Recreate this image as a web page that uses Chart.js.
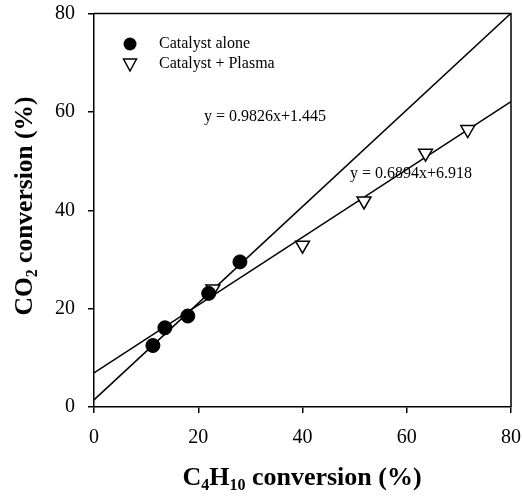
<!DOCTYPE html>
<html><head><meta charset="utf-8">
<script src="https://cdn.jsdelivr.net/npm/chart.js@4/dist/chart.umd.min.js"></script>
<style>html,body{margin:0;padding:0;background:#fff}#wrap{width:522px;height:496px}</style>
</head><body><div id="wrap"><canvas id="c" width="522" height="496"></canvas></div>
<script>
const catalystX = [11.3, 13.6, 18.0, 22.0, 28.0];
const catalystY = [12.5, 16.1, 18.5, 23.1, 29.5];
const plasmaX = [22.8, 40.0, 51.8, 63.6, 71.7];
const plasmaY = [24.0, 32.9, 41.9, 51.6, 56.4];
const fit1X = [0, 80];
const fit1Y = [1.445, 80.05];
const fit2X = [0, 80];
const fit2Y = [6.918, 62.07];
const xTicks = [0, 20, 40, 60, 80];
const yTicks = [0, 20, 40, 60, 80];
const seriesNames = ["Catalyst alone", "Catalyst + Plasma"];
const fitLabels = ["y = 0.9826x+1.445", "y = 0.6894x+6.918"];

const pts = (xs, ys) => xs.map((x, i) => ({x, y: ys[i]}));
const SERIF = '"Liberation Serif", "DejaVu Serif", serif';

function drawSub(ctx, parts, cx, cy, size) {
  const subSize = Math.round(size * 0.62);
  let w = 0;
  parts.forEach(p => {
    ctx.font = 'bold ' + (p[1] ? subSize : size) + 'px ' + SERIF;
    w += ctx.measureText(p[0]).width;
  });
  let x = cx - w / 2;
  ctx.textBaseline = 'alphabetic';
  ctx.textAlign = 'left';
  parts.forEach(p => {
    ctx.font = 'bold ' + (p[1] ? subSize : size) + 'px ' + SERIF;
    ctx.fillText(p[0], x, cy + (p[1] ? size * 0.2 : 0));
    x += ctx.measureText(p[0]).width;
  });
}

function zeroPad(s) {
  s.paddingTop = 0; s.paddingBottom = 0; s.paddingLeft = 0; s.paddingRight = 0;
}

const deco = {
  id: 'deco',
  afterDraw(chart) {
    const ctx = chart.ctx, a = chart.chartArea;
    ctx.save();
    ctx.strokeStyle = '#000';
    ctx.lineWidth = 1.5;
    ctx.beginPath();
    ctx.moveTo(a.left, a.top); ctx.lineTo(a.right, a.top); ctx.lineTo(a.right, a.bottom);
    ctx.stroke();
    // legend
    ctx.fillStyle = '#000';
    ctx.beginPath(); ctx.arc(130, 44, 6.5, 0, Math.PI * 2); ctx.fill();
    ctx.beginPath();
    ctx.moveTo(123.5, 59); ctx.lineTo(136.5, 59); ctx.lineTo(130, 71); ctx.closePath();
    ctx.fillStyle = '#fff'; ctx.fill(); ctx.lineWidth = 1.5; ctx.stroke();
    ctx.fillStyle = '#000';
    ctx.font = '16px ' + SERIF;
    ctx.textAlign = 'left'; ctx.textBaseline = 'middle';
    ctx.fillText(seriesNames[0], 159, 44);
    ctx.fillText(seriesNames[1], 159, 64);
    // fit equations
    ctx.font = '16px ' + SERIF;
    ctx.textAlign = 'center';
    ctx.fillText(fitLabels[0], 265, 117);
    ctx.fillText(fitLabels[1], 411, 174);
    // axis titles
    drawSub(ctx, [['C', 0], ['4', 1], ['H', 0], ['10', 1], [' conversion (%)', 0]], 302, 485, 26);
    ctx.translate(32, 206);
    ctx.rotate(-Math.PI / 2);
    drawSub(ctx, [['CO', 0], ['2', 1], [' conversion (%)', 0]], 0, 0, 25.5);
    ctx.restore();
  }
};

new Chart(document.getElementById('c'), {
  type: 'scatter',
  data: {
    datasets: [
      {label: 'fit1', type: 'line', data: pts(fit1X, fit1Y), borderColor: '#000', borderWidth: 1.5, pointRadius: 0, fill: false, order: 3},
      {label: 'fit2', type: 'line', data: pts(fit2X, fit2Y), borderColor: '#000', borderWidth: 1.5, pointRadius: 0, fill: false, order: 3},
      {label: seriesNames[0], data: pts(catalystX, catalystY), pointStyle: 'circle', pointRadius: 7, backgroundColor: '#000', borderColor: '#000', borderWidth: 1, order: 1},
      {label: seriesNames[1], data: pts(plasmaX, plasmaY), pointStyle: 'triangle', rotation: 180, pointRadius: 8, backgroundColor: '#fff', borderColor: '#000', borderWidth: 1.5, order: 2}
    ]
  },
  options: {
    responsive: false,
    animation: false,
    layout: {padding: {top: 13.5, right: 11, left: 0, bottom: 0}},
    plugins: {legend: {display: false}, tooltip: {enabled: false}},
    scales: {
      x: {
        type: 'linear', min: 0, max: 80,
        afterBuildTicks: s => { s.ticks = xTicks.map(v => ({value: v})); },
        afterFit: s => { s.height = 89; zeroPad(s); },
        grid: {drawOnChartArea: false, color: '#000', tickLength: 6, lineWidth: 1.5},
        border: {color: '#000', width: 1.5},
        ticks: {color: '#000', font: {family: SERIF, size: 20}, padding: 13, maxRotation: 0}
      },
      y: {
        type: 'linear', min: 0, max: 80,
        afterBuildTicks: s => { s.ticks = yTicks.map(v => ({value: v})); },
        afterFit: s => { s.width = 94; zeroPad(s); },
        grid: {drawOnChartArea: false, color: '#000', tickLength: 6, lineWidth: 1.5},
        border: {color: '#000', width: 1.5},
        ticks: {color: '#000', font: {family: SERIF, size: 20}, padding: 13}
      }
    }
  },
  plugins: [deco]
});
</script></body></html>
